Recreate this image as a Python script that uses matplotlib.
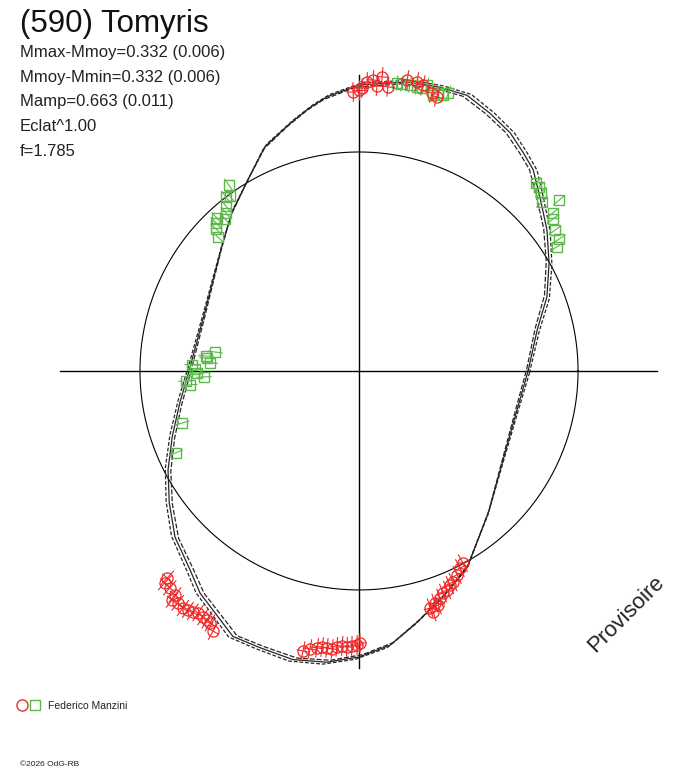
import numpy as np
import matplotlib.pyplot as plt
from matplotlib.collections import LineCollection

plt.rcParams['font.family'] = ['Liberation Sans', 'DejaVu Sans']

# courbe de lumière polaire : angle (deg) et rayon relatif (cercle = 1)
curve_ang = [0, 13.0, 21.5, 29.6, 36.9, 43.9, 49.1, 53.0, 57.6, 63.1, 68.6, 74.1,
             80.6, 90.0, 96.7, 100.5, 105.5, 112.8, 120.2, 128.8, 137.9, 148.1,
             159.4, 180.0, 190.1, 199.4, 207.4, 214.8, 222.1, 229.7, 234.4, 244.6,
             250.3, 257.1, 263.7, 270.0, 276.5, 283.0, 290.4, 298.9, 312.3, 332.8,
             346.1]
curve_r = [0.772, 0.835, 0.922, 0.998, 1.073, 1.146, 1.215, 1.247, 1.288, 1.320,
           1.352, 1.347, 1.338, 1.306, 1.260, 1.224, 1.174, 1.110, 1.009, 0.927,
           0.845, 0.785, 0.753, 0.776, 0.831, 0.904, 0.982, 1.055, 1.132, 1.192,
           1.247, 1.342, 1.342, 1.352, 1.338, 1.306, 1.260, 1.178, 1.100, 1.023,
           0.877, 0.758, 0.743]

# mesures (ronds rouges)
red_ang = [91.2, 90.0, 89.4, 88.4, 87.2, 86.4, 85.5, 84.2, 80.6, 78.7, 77.4, 75.3, 74.1,
           227.2, 227.5, 228.9, 230.6, 230.8, 232.0, 233.4, 234.4, 235.4, 236.4, 237.6,
           238.6, 239.4, 240.7,
           258.7, 260.0, 261.4, 262.4, 263.4, 264.5, 265.4, 266.5, 267.5, 268.5, 269.6,
           270.2,
           286.7, 287.1, 288.1, 288.7, 289.6, 290.7, 291.9, 293.0, 294.0, 295.7, 297.1,
           298.4]
red_r = [1.274, 1.283, 1.292, 1.320, 1.330, 1.304, 1.347, 1.304, 1.347, 1.346, 1.338,
         1.312, 1.301,
         1.289, 1.312, 1.314, 1.324, 1.350, 1.344, 1.348, 1.342, 1.336, 1.327, 1.330,
         1.332, 1.337, 1.362,
         1.304, 1.289, 1.279, 1.272, 1.273, 1.275, 1.264, 1.258, 1.261, 1.256, 1.251,
         1.242,
         1.130, 1.151, 1.115, 1.128, 1.101, 1.084, 1.078, 1.062, 1.055, 1.033, 1.011,
         0.997]

# mesures (carrés verts)
green_ang = [82.5, 81.5, 79.9, 78.5, 77.4, 76.6, 75.0, 74.1, 73.1, 72.2,
             125.0, 126.4, 127.4, 128.9, 130.1, 131.4, 132.9, 134.0, 135.2, 136.5,
             172.5, 174.4, 175.1, 176.9, 177.9, 179.3, 180.7, 182.2, 183.3, 184.7,
             196.4, 204.1,
             46.7, 45.6, 44.4, 42.7, 40.5, 39.2, 38.1, 35.7, 33.4, 32.1]
green_r = [1.326, 1.325, 1.327, 1.324, 1.324, 1.342, 1.305, 1.320, 1.317, 1.333,
           1.036, 0.993, 1.000, 0.968, 0.943, 0.925, 0.953, 0.940, 0.920, 0.888,
           0.663, 0.702, 0.697, 0.681, 0.763, 0.749, 0.740, 0.708, 0.791, 0.774,
           0.842, 0.916,
           1.179, 1.175, 1.163, 1.137, 1.201, 1.142, 1.125, 1.102, 1.094, 1.067]

red_err = 0.045
green_err = 0.035

stats = ['Mmax-Mmoy=0.332 (0.006)', 'Mmoy-Mmin=0.332 (0.006)',
         'Mamp=0.663 (0.011)', 'Eclat^1.00', 'f=1.785']


def xy(ang, r):
    a = np.radians(np.asarray(ang))
    r = np.asarray(r)
    return r * np.cos(a), r * np.sin(a)


fig = plt.figure(figsize=(6.88, 7.68), dpi=100)
ax = fig.add_axes([0, 0, 1, 1])
ax.set_xlim(-1.639, 1.502)
ax.set_ylim(-1.813, 1.694)
ax.axis('off')

# axes et cercle de référence
ax.plot([-1.365, 1.361], [0, 0], color='black', lw=1)
ax.plot([0, 0], [-1.356, 1.352], color='black', lw=1)
t = np.linspace(0, 2 * np.pi, 400)
ax.plot(np.cos(t), np.sin(t), color='black', lw=0.8)

# courbe ajustée (tracée plusieurs fois, légèrement décalée)
ca = np.append(curve_ang, curve_ang[0])
cr = np.append(curve_r, curve_r[0])
for s, d, ls in [(1.0, 0.0, '-'), (0.992, 0.7, (0, (4, 1.5))), (1.008, -0.7, (0, (3, 1.5)))]:
    x, y = xy(ca + d, cr * s)
    ax.plot(x, y, color='#262626', lw=0.9, ls=ls)


def radial_bars(ang, r, err, color, tang=0.0):
    a = np.radians(np.asarray(ang))
    r = np.asarray(r)
    segs = []
    for ai, ri in zip(a, r):
        c, s = np.cos(ai), np.sin(ai)
        segs.append([((ri - err) * c, (ri - err) * s), ((ri + err) * c, (ri + err) * s)])
        if tang:
            segs.append([(ri * c + tang * s, ri * s - tang * c),
                         (ri * c - tang * s, ri * s + tang * c)])
    ax.add_collection(LineCollection(segs, colors=color, linewidths=0.8))


gx, gy = xy(green_ang, green_r)
radial_bars(green_ang, green_r, green_err, '#5cb84a')
ax.plot(gx, gy, 's', ms=6.5, mfc='none', mec='#5cb84a', mew=1.0)

rx, ry = xy(red_ang, red_r)
radial_bars(red_ang, red_r, red_err, '#f02828', tang=0.03)
ax.plot(rx, ry, 'o', ms=8, mfc='none', mec='#f02828', mew=0.9)

# textes
fig.text(20 / 688, 1 - 32 / 768, '(590) Tomyris', fontsize=22.5, color='#111111')
for i, s in enumerate(stats):
    fig.text(20 / 688, 1 - (57 + 24.7 * i) / 768, s, fontsize=12, color='#222222')

ax.text(0.91, 0.2, 'Provisoire', transform=ax.transAxes, rotation=45,
        ha='center', va='center', fontsize=16, color='#222222')

# légende
ax.plot([22 / 688], [1 - 705 / 768], 'o', ms=8, mfc='none', mec='#e03030',
        mew=1.0, transform=ax.transAxes)
ax.plot([35 / 688], [1 - 705 / 768], 's', ms=6.5, mfc='none', mec='#5cb84a',
        mew=1.0, transform=ax.transAxes)
fig.text(48 / 688, 1 - 709 / 768, 'Federico Manzini', fontsize=7.5,
         color='#222222')
fig.text(20 / 688, 1 - 766 / 768, '©2026 OdG-RB', fontsize=6, color='#222222')

fig.savefig('out.png', dpi=100)
